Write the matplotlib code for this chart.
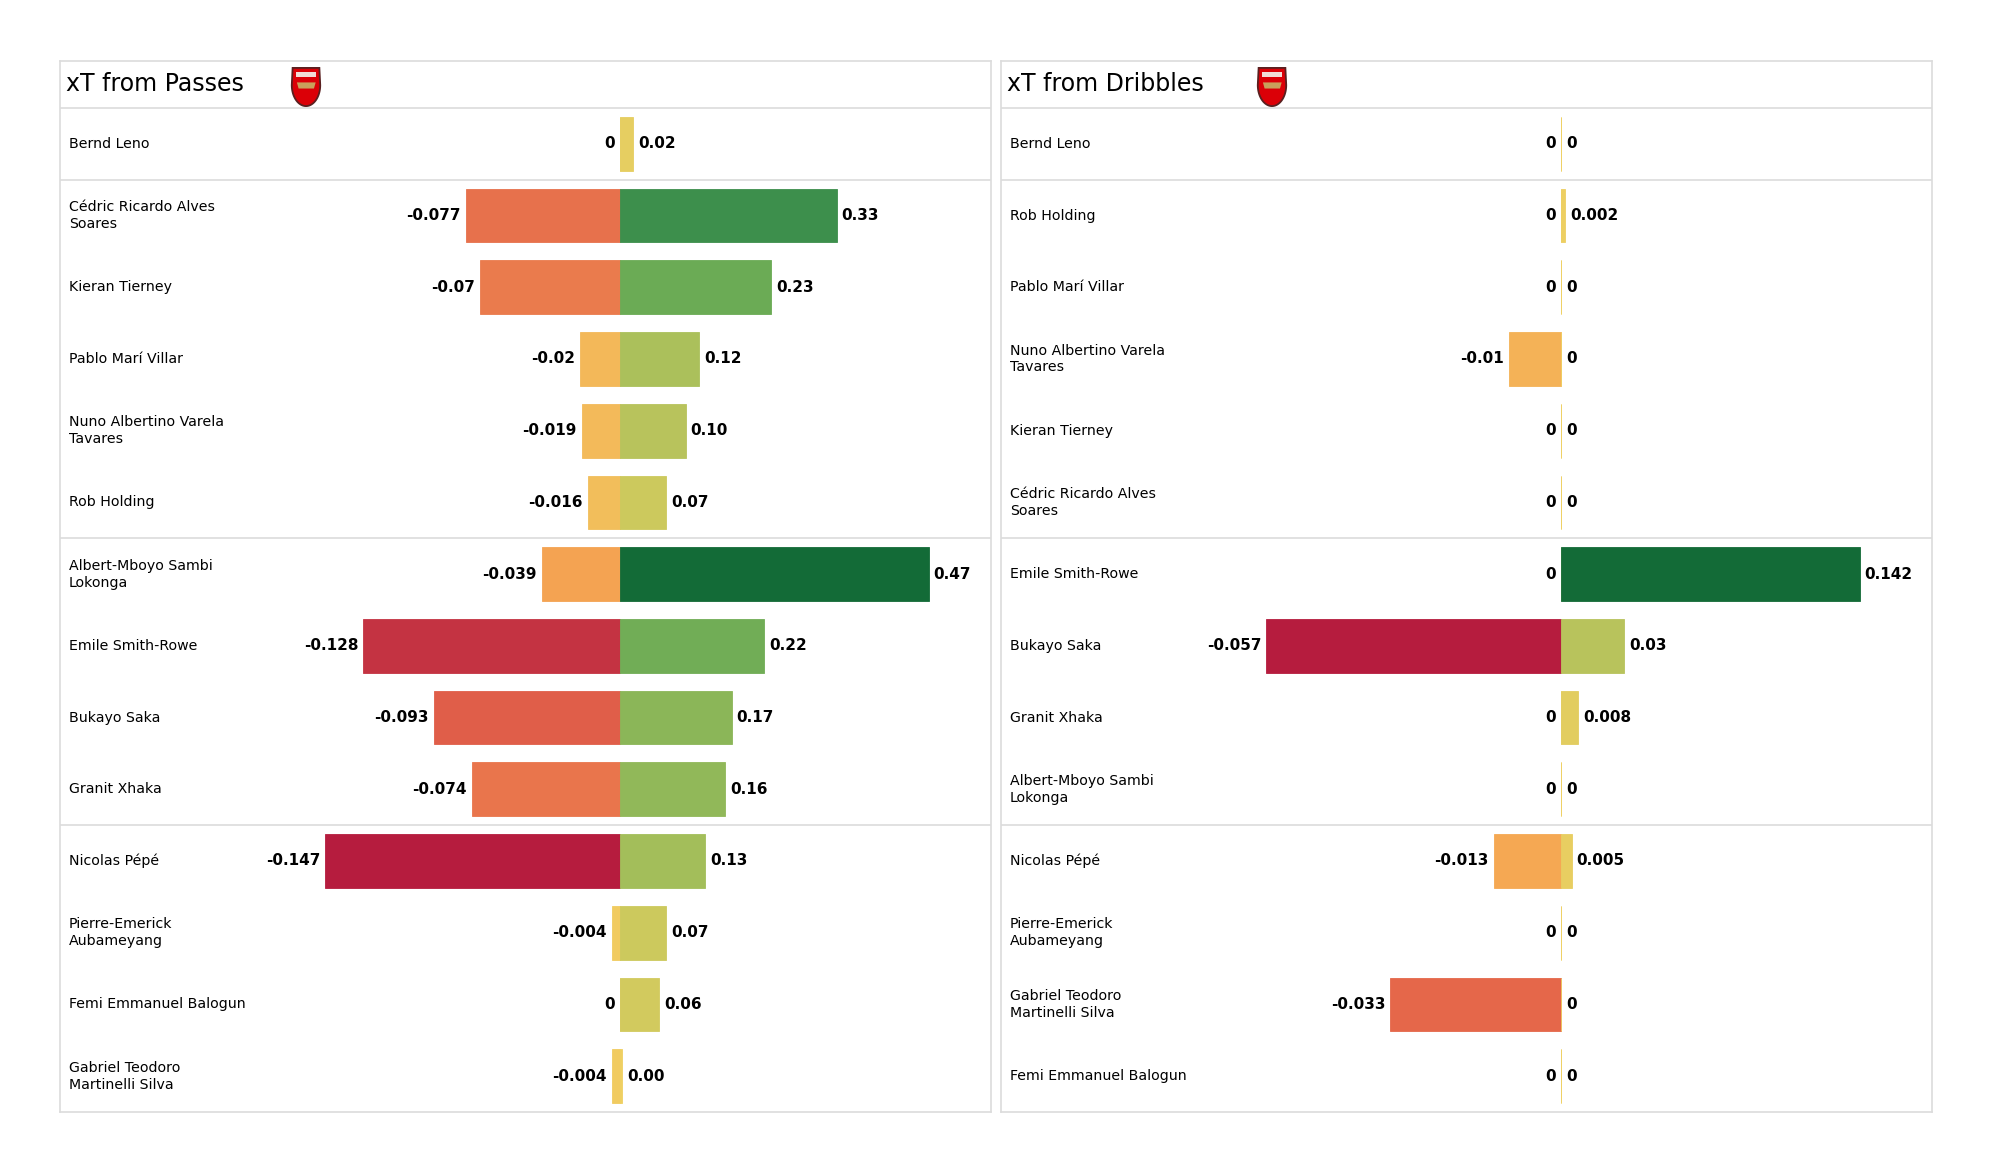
import numpy as np
import matplotlib.pyplot as plt
from matplotlib.colors import LinearSegmentedColormap
from matplotlib.patches import Polygon

# xT from passes
players_passes = ["Bernd Leno", "Cédric Ricardo Alves\nSoares", "Kieran Tierney",
                  "Pablo Marí Villar", "Nuno Albertino Varela\nTavares", "Rob Holding",
                  "Albert-Mboyo Sambi\nLokonga", "Emile Smith-Rowe", "Bukayo Saka",
                  "Granit Xhaka", "Nicolas Pépé", "Pierre-Emerick\nAubameyang",
                  "Femi Emmanuel Balogun", "Gabriel Teodoro\nMartinelli Silva"]
passes_neg = [0, -0.077, -0.07, -0.02, -0.019, -0.016, -0.039, -0.128, -0.093,
              -0.074, -0.147, -0.004, 0, -0.004]
passes_pos = [0.02, 0.33, 0.23, 0.12, 0.10, 0.07, 0.47, 0.22, 0.17, 0.16, 0.13,
              0.07, 0.06, 0.003]

# xT from dribbles
players_dribbles = ["Bernd Leno", "Rob Holding", "Pablo Marí Villar",
                    "Nuno Albertino Varela\nTavares", "Kieran Tierney",
                    "Cédric Ricardo Alves\nSoares", "Emile Smith-Rowe", "Bukayo Saka",
                    "Granit Xhaka", "Albert-Mboyo Sambi\nLokonga", "Nicolas Pépé",
                    "Pierre-Emerick\nAubameyang", "Gabriel Teodoro\nMartinelli Silva",
                    "Femi Emmanuel Balogun"]
dribbles_neg = [0, 0, 0, -0.01, 0, 0, 0, -0.057, 0, 0, -0.013, 0, -0.033, 0]
dribbles_pos = [0, 0.002, 0, 0, 0, 0, 0.142, 0.03, 0.008, 0, 0.005, 0, 0, 0]

# rows after which a position group ends (GK / DEF / MID / FWD)
group_breaks = [0.5, 5.5, 9.5]

cmap = LinearSegmentedColormap.from_list("xt", [
    (0.0, "#b61c3e"), (0.2, "#e4644a"), (0.375, "#f5a552"), (0.5, "#f0d062"),
    (0.575, "#cdc95d"), (0.65, "#9cbc5a"), (0.75, "#68aa55"), (0.85, "#3d8f4c"),
    (1.0, "#136b37")])

W, H = 2000, 1175
LINE = "#dcdcdc"


def draw_crest(fig, cx, cy):
    # simple Arsenal-like shield
    w, h = 33, 42
    ax = fig.add_axes([(cx - w / 2) / W, (H - cy - h / 2) / H, w / W, h / H])
    ax.set_xlim(-0.08, 1.08)
    ax.set_ylim(-0.05, 1.05)
    ax.axis("off")
    t = np.linspace(0, 1, 30) * np.pi / 2
    right = np.column_stack([0.5 + 0.5 * np.cos(t), 0.55 - 0.55 * np.sin(t)])
    left = np.column_stack([0.5 - 0.5 * np.sin(t), 0.55 - 0.55 * np.cos(t)])
    pts = np.vstack([[0.03, 1.0], [0.97, 1.0], right, left])
    ax.add_patch(Polygon(pts, closed=True, fc="#db0007", ec="#5a2020", lw=1.3))
    ax.add_patch(Polygon([[0.14, 0.9], [0.86, 0.9], [0.86, 0.76], [0.14, 0.76]],
                         closed=True, fc="#f1ddd6", ec="none"))
    ax.add_patch(Polygon([[0.18, 0.62], [0.84, 0.62], [0.78, 0.46], [0.24, 0.46]],
                         closed=True, fc="#c9a15b", ec="none"))


def draw_panel(fig, left_px, title, names, neg, pos, pos_fmt, pos_len):
    top_px, bottom_px, width_px = 61, 1112, 931
    zero_px, neg_len = 560, 294.6
    ax = fig.add_axes([left_px / W, (H - bottom_px) / H, width_px / W,
                       (bottom_px - top_px) / H])
    ax.set_xlim(-zero_px, width_px - zero_px)
    ax.set_ylim(13.5, -1.155)
    ax.set_xticks([])
    ax.set_yticks([])
    for s in ax.spines.values():
        s.set_color(LINE)
        s.set_linewidth(1.2)

    neg = np.array(neg, dtype=float)
    pos = np.array(pos, dtype=float)
    neg_n = neg / max(abs(neg.min()), 1e-9)
    pos_n = pos / max(pos.max(), 1e-9)
    y = np.arange(len(names))

    ax.barh(y, neg_n * neg_len, height=0.75, color=cmap(0.5 + 0.5 * neg_n),
            edgecolor=cmap(0.5 + 0.5 * neg_n), linewidth=0.6)
    ax.barh(y, pos_n * pos_len, height=0.75, color=cmap(0.5 + 0.5 * pos_n),
            edgecolor=cmap(0.5 + 0.5 * pos_n), linewidth=0.6)

    off = 5
    for i in range(len(names)):
        ax.text(neg_n[i] * neg_len - off, y[i], f"{neg[i]:g}" if neg[i] != 0 else "0",
                ha="right", va="center", fontsize=11, fontweight="bold")
        ax.text(pos_n[i] * pos_len + off, y[i], pos_fmt(pos[i]),
                ha="left", va="center", fontsize=11, fontweight="bold")
        ax.text(0.0095, y[i], names[i], transform=ax.get_yaxis_transform(),
                ha="left", va="center", fontsize=10.2, linespacing=1.25)

    ax.axhline(-0.5, color=LINE, lw=1.2)
    for b in group_breaks:
        ax.axhline(b, color=LINE, lw=1.2)

    ax.text(0.0065, -0.83, title, transform=ax.get_yaxis_transform(),
            ha="left", va="center", fontsize=17)
    return ax


fig = plt.figure(figsize=(20, 11.75), dpi=100)
fig.patch.set_facecolor("white")

draw_panel(fig, 60, "xT from Passes", players_passes, passes_neg, passes_pos,
           lambda v: f"{v:.2f}", 308.7)
draw_panel(fig, 1001, "xT from Dribbles", players_dribbles, dribbles_neg, dribbles_pos,
           lambda v: f"{v:g}", 298.5)
draw_crest(fig, 306, 87)
draw_crest(fig, 1272, 87)

fig.savefig("out.png", dpi=100, facecolor="white")
